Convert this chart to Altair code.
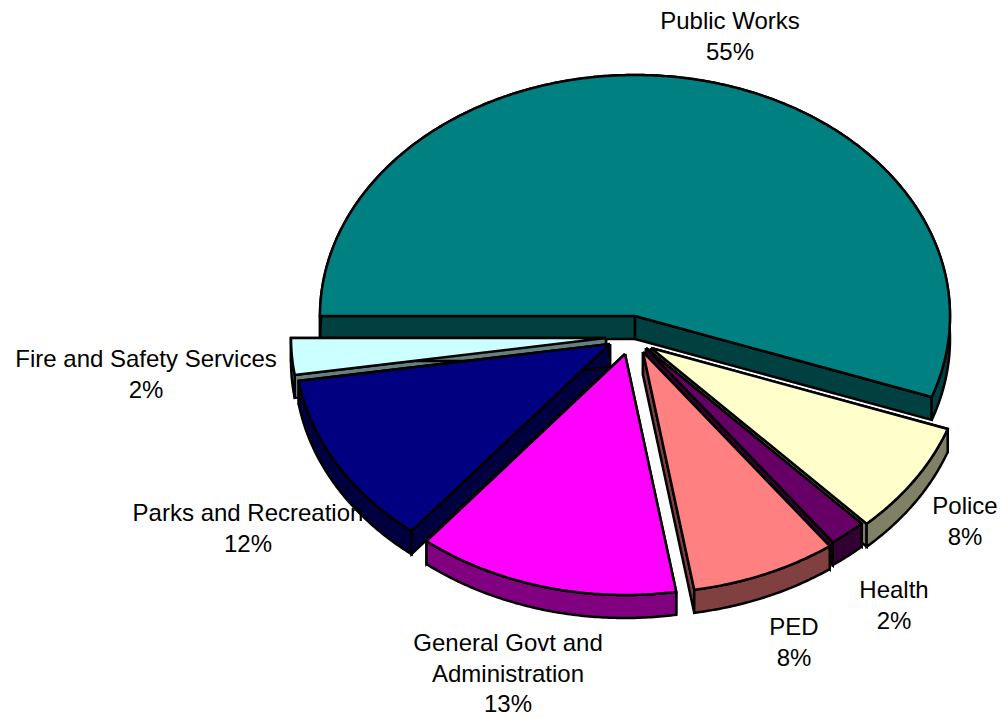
import altair as alt
import numpy as np
import pandas as pd

# Department shares of the budget, clockwise from the left-hand edge of the pie
departments = ["Public Works", "Police", "Health", "PED",
               "General Govt and Administration", "Parks and Recreation",
               "Fire and Safety Services"]
shares = [55.45, 7.55, 1.9, 7.5, 13.45, 11.7, 2.45]
top_colors = ["#008080", "#FFFFCC", "#660066", "#FF8080", "#FF00FF", "#000080", "#CCFFFF"]
wall_colors = ["#004040", "#808066", "#330033", "#804040", "#800080", "#000040", "#668080"]

# Apex of each exploded wedge
apex_x = [635, 651, 646, 643, 625, 610, 606]
apex_y = [316, 348, 348, 352, 354, 344, 338]

# Painter's order: rear wedges first
paint_order = [0, 6, 5, 1, 2, 3, 4]

# Text placement: centre of each label block and its wrapped name lines
label_lines = [["Public Works"], ["Police"], ["Health"], ["PED"],
               ["General Govt and", "Administration"], ["Parks and Recreation"],
               ["Fire and Safety Services"]]
label_x = [730, 965, 894, 794, 508, 248, 146]
label_y = [22, 507, 591, 628, 644, 514, 360]
line_step = 30.5

RX, RY, DEPTH = 315, 241, 23
START_ANGLE = 180.0

# Cumulative wedge angles
ends = START_ANGLE + np.cumsum(shares) / sum(shares) * 360.0
starts = np.concatenate([[START_ANGLE], ends[:-1]])


def rim(i):
    """Points along the outer rim of wedge i, on the tilted ellipse."""
    n = max(2, int(ends[i] - starts[i]) * 2)
    t = np.radians(np.linspace(starts[i], ends[i], n))
    return apex_x[i] + RX * np.cos(t), apex_y[i] + RY * np.sin(t)


rows = []


def add_polygon(name, color, xs, ys):
    for k, (px, py) in enumerate(zip(xs, ys)):
        rows.append({"part": name, "color": color, "k": k, "x": float(px), "y": float(py)})


for i in paint_order:
    rx, ry = rim(i)
    wall = wall_colors[i]
    # Cut faces, then the outer wall, then the top surface
    for tag, j in (("a", 0), ("b", -1)):
        xs = [apex_x[i], rx[j], rx[j], apex_x[i], apex_x[i]]
        ys = [apex_y[i], ry[j], ry[j] + DEPTH, apex_y[i] + DEPTH, apex_y[i]]
        add_polygon(f"{i}-cut-{tag}", wall, xs, ys)
    xs = np.concatenate([rx, rx[::-1], rx[:1]])
    ys = np.concatenate([ry, ry[::-1] + DEPTH, ry[:1]])
    add_polygon(f"{i}-rim", wall, xs, ys)
    xs = np.concatenate([[apex_x[i]], rx, [apex_x[i]]])
    ys = np.concatenate([[apex_y[i]], ry, [apex_y[i]]])
    add_polygon(f"{i}-top", top_colors[i], xs, ys)

polygons = pd.DataFrame(rows)

x_scale = alt.Scale(domain=[0, 1000], nice=False, zero=False)
y_scale = alt.Scale(domain=[718, 0], nice=False, zero=False)

wedges = alt.Chart(polygons).mark_line(
    stroke="black", strokeWidth=2.5, strokeJoin="miter", strokeMiterLimit=4, interpolate="linear"
).encode(
    x=alt.X("x:Q", scale=x_scale, axis=None),
    y=alt.Y("y:Q", scale=y_scale, axis=None),
    detail="part:N",
    order="k:Q",
    fill=alt.Fill("color:N", scale=None),
)

text_rows = []
for i, lines in enumerate(label_lines):
    block = lines + [f"{round(shares[i])}%"]
    for n, line in enumerate(block):
        text_rows.append({"text": line, "x": label_x[i], "y": label_y[i] + n * line_step})

labels = alt.Chart(pd.DataFrame(text_rows)).mark_text(
    font="Liberation Sans", fontSize=24, color="black", align="center", baseline="middle"
).encode(
    x=alt.X("x:Q", scale=x_scale, axis=None),
    y=alt.Y("y:Q", scale=y_scale, axis=None),
    text="text:N",
)

chart = (wedges + labels).properties(
    width=1000, height=718, padding=0, autosize=alt.AutoSizeParams(type="none"), background="white"
).configure_view(stroke=None)

chart.save("out.html", embed_options={"renderer": "svg", "actions": False})
